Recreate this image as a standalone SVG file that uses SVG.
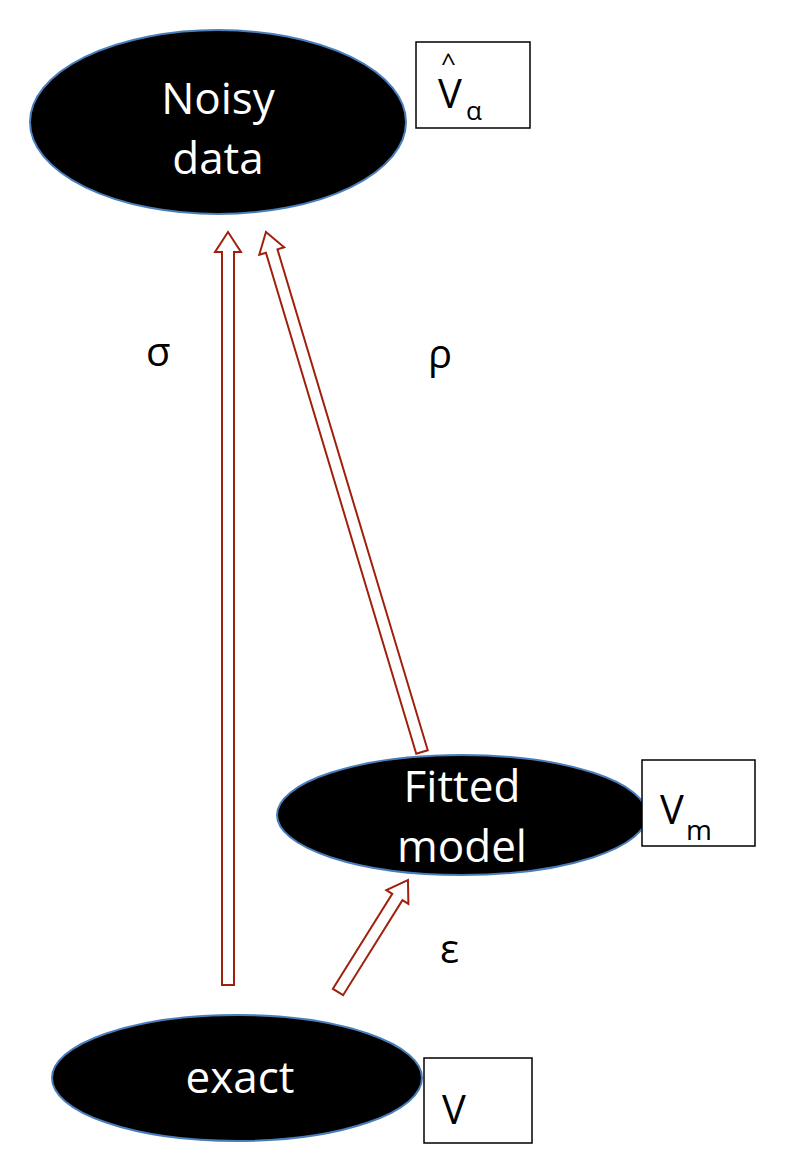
<svg xmlns="http://www.w3.org/2000/svg" width="789" height="1172" viewBox="0 0 789 1172">
<style>
.n{fill:#000;stroke:#4a7ebb;stroke-width:2}
.t{font-family:"Open Sans","Liberation Sans",sans-serif;font-size:44px;fill:#fff;text-anchor:middle}
.b{fill:#fff;stroke:#000;stroke-width:1.5}
.l{font-family:"Open Sans","Liberation Sans",sans-serif;font-size:40px;fill:#000}
.a{fill:#fff;stroke:#a0200e;stroke-width:2}
</style>
<rect width="789" height="1172" fill="#fff"/>
<g id="connectors">
<polygon class="a" transform="translate(228,985) rotate(-90)" points="0,-6 733,-6 733,-13 753,0 733,13 733,6 0,6"/>
<polygon class="a" transform="translate(422,752) rotate(-106.7)" points="0,-6 523,-6 523,-13 543,0 523,13 523,6 0,6"/>
<polygon class="a" transform="translate(338,992) rotate(-58)" points="0,-6 112,-6 112,-13 132,0 112,13 112,6 0,6"/>
</g>
<g id="noisy"><ellipse class="n" cx="218" cy="122" rx="188" ry="92"/><text class="t" x="218" y="114">Noisy</text><text class="t" x="218" y="174">data</text></g>
<g id="fitted"><ellipse class="n" cx="462" cy="815" rx="185" ry="60"/><text class="t" x="462" y="802">Fitted</text><text class="t" x="462" y="862">model</text></g>
<g id="exact"><ellipse class="n" cx="237" cy="1078" rx="185" ry="63"/><text class="t" x="240" y="1093">exact</text></g>
<g id="vhat"><rect class="b" x="416" y="42" width="114" height="86"/><text class="l" x="438" y="108">V</text><text class="l" x="441" y="72" style="font-size:26px">^</text><text class="l" x="466" y="120" style="font-size:26px">α</text></g>
<g id="vm"><rect class="b" x="642" y="760" width="113" height="86"/><text class="l" x="660" y="824">V</text><text class="l" x="686" y="840" style="font-size:28px">m</text></g>
<g id="v"><rect class="b" x="424" y="1058" width="108" height="85"/><text class="l" x="442" y="1124">V</text></g>
<text class="l" x="146" y="366">σ</text>
<text class="l" x="428" y="368">ρ</text>
<text class="l" x="440" y="963">ε</text>
</svg>
